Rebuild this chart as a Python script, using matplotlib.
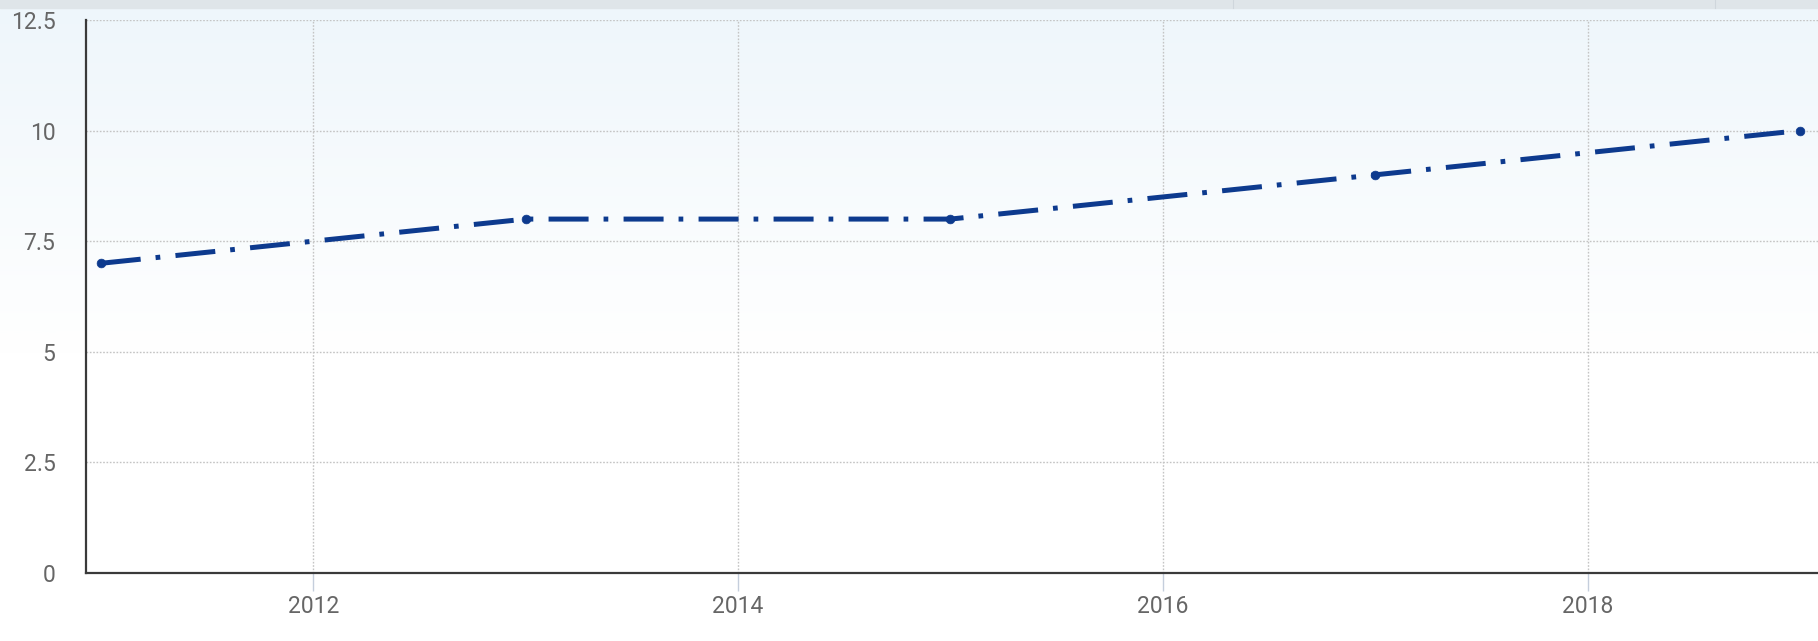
import matplotlib
matplotlib.use("Agg")
import matplotlib.pyplot as plt
import numpy as np
from matplotlib.colors import LinearSegmentedColormap

plt.rcParams['font.family'] = ['Roboto', 'DejaVu Sans']
plt.rcParams['lines.scale_dashes'] = False

years = [2011, 2013, 2015, 2017, 2019]
values = [7, 8, 8, 9, 10]
x_ticks = [2012, 2014, 2016, 2018]
y_ticks = [0, 2.5, 5, 7.5, 10, 12.5]
y_tick_labels = ['0', '2.5', '5', '7.5', '10', '12.5']

W, H = 1818, 641
fig = plt.figure(figsize=(W / 100, H / 100), dpi=100)

# background gradient
bg = fig.add_axes([0, 0, 1, 1], zorder=-10)
bg.set_axis_off()
cmap = LinearSegmentedColormap.from_list('g', [(0, '#ffffff'), (0.45, '#ffffff'), (1.0, '#eef6fb')])
grad = np.linspace(0, 1, 400).reshape(-1, 1)
bg.imshow(grad, aspect='auto', cmap=cmap, origin='lower', extent=[0, 1, 0, 1])
bg.set_xlim(0, 1)
bg.set_ylim(0, 1)
# top strip
bg.axhspan(1 - 8 / H, 1, color='#dfe5e9', zorder=2)
bg.plot([1233 / W, 1233 / W], [1 - 8 / H, 1], color='#cfd6dc', lw=0.8, zorder=3)
bg.plot([1715 / W, 1715 / W], [1 - 8 / H, 1], color='#cfd6dc', lw=0.8, zorder=3)

left = 86 / W
bottom = 1 - 573 / H
top = 1 - 20 / H
ax = fig.add_axes([left, bottom, 1 - left, top - bottom])
ax.set_facecolor('none')

ax.plot(years, values, color='#0d3a8e', lw=3.6, dashes=(28.8, 10.8, 3.4, 11),
        dash_capstyle='butt', marker='o', markersize=6.3,
        markerfacecolor='#0d3a8e', markeredgecolor='#0d3a8e', markeredgewidth=0.5,
        zorder=5, clip_on=False)

ax.set_xlim(2010.93, 2019.085)
ax.set_ylim(0, 12.5)
ax.set_xticks(x_ticks)
ax.set_xticklabels([str(t) for t in x_ticks])
ax.set_yticks(y_ticks)
ax.set_yticklabels(y_tick_labels)

ax.grid(True, linestyle=(0, (1.2, 1.2)), color='#c4c4c4', lw=1.0)
ax.set_axisbelow(True)

for s in ['top', 'right']:
    ax.spines[s].set_visible(False)
for s in ['left', 'bottom']:
    ax.spines[s].set_color('#3a3a3a')
    ax.spines[s].set_linewidth(1.6)

ax.tick_params(axis='x', length=13, width=1, color='#c5cedc', pad=3,
               labelsize=16.5, labelcolor='#666666')
ax.tick_params(axis='y', length=0, pad=22, labelsize=16.5, labelcolor='#666666')

fig.savefig('out.png', dpi=100)
